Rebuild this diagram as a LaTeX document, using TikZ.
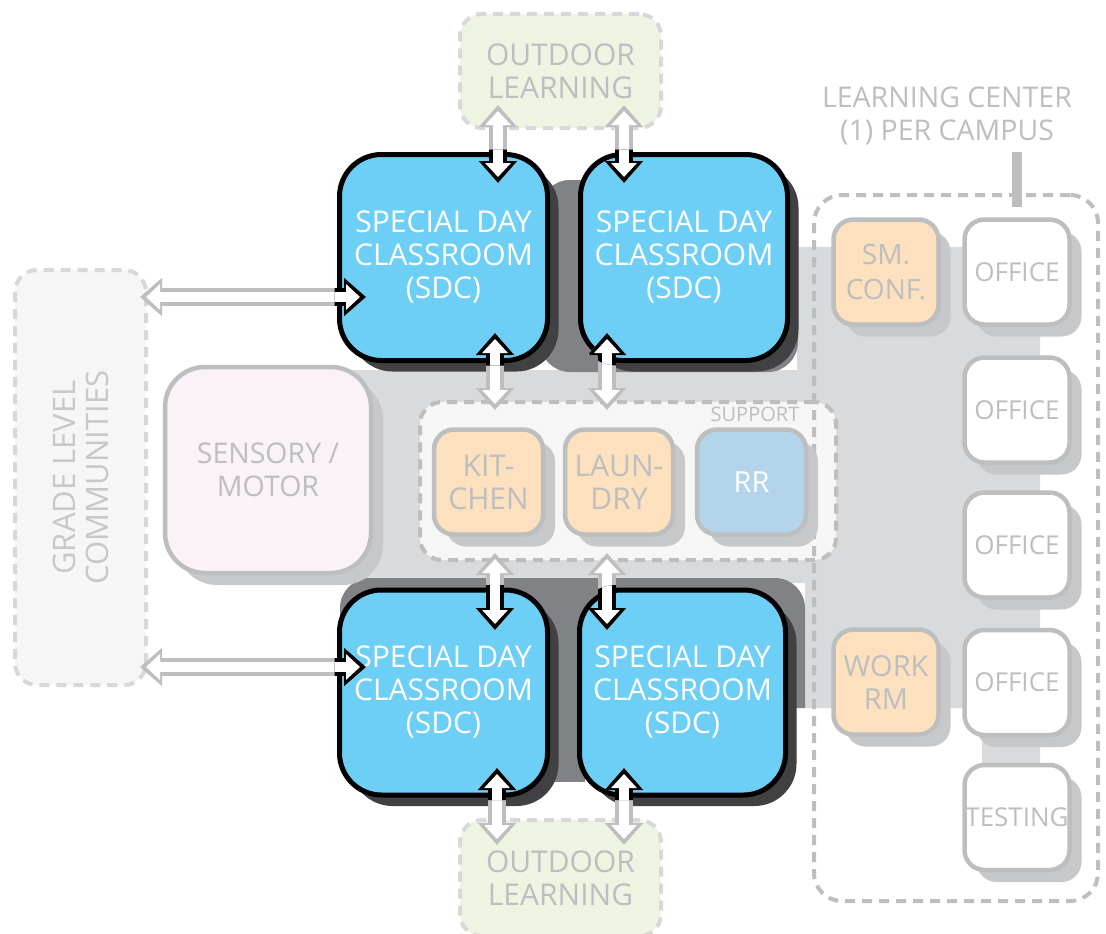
\documentclass[tikz,border=0pt]{standalone}
\usepackage{fontspec}
\setmainfont{Open Sans}
\usetikzlibrary{positioning,calc,shadows,arrows.meta}

\definecolor{sdcblue}{HTML}{6DCFF6}
\definecolor{sdcshadow}{HTML}{414042}
\definecolor{corridor}{HTML}{D9DADB}
\definecolor{darkband}{HTML}{808285}
\definecolor{softgray}{HTML}{BCBEC0}
\definecolor{shadowgray}{HTML}{C7C8CA}
\definecolor{zoneline}{HTML}{D7D8DA}
\definecolor{peach}{HTML}{FDE0BD}
\definecolor{rrblue}{HTML}{B4D4EC}
\definecolor{outdoorgreen}{HTML}{EEF4E1}
\definecolor{sensorypink}{HTML}{FBF2F7}
\definecolor{paleback}{HTML}{F6F6F6}

\tikzset{
  sdc/.style={rectangle, rounded corners=42pt, draw=black, line width=5pt, fill=sdcblue,
    text=white, align=center, minimum width=208pt, minimum height=206pt,
    font=\fontsize{30}{33}\selectfont,
    drop shadow={shadow xshift=11pt, shadow yshift=-11pt, fill=sdcshadow, opacity=1}},
  room/.style={rectangle, rounded corners=20pt, draw=softgray, line width=4.5pt, text=softgray,
    align=center, minimum width=105pt, minimum height=105pt, inner sep=0pt,
    font=\fontsize{29}{33}\selectfont,
    drop shadow={shadow xshift=12pt, shadow yshift=-12pt, fill=shadowgray, opacity=1}},
  zone/.style={rectangle, rounded corners=22pt, line width=4pt, dash pattern=on 10pt off 7pt,
    text=softgray, align=center, font=\fontsize{30}{33}\selectfont},
}

% two-way hollow arrow: outline colour, start, end
\newcommand{\twoway}[3]{%
  \draw[line width=18pt, #1, {Triangle[length=22pt,width=37pt]}-{Triangle[length=22pt,width=37pt]}] (#2) -- (#3);
  \draw[line width=10pt, white, {Triangle[length=14pt,width=25pt]}-{Triangle[length=14pt,width=25pt]},
    shorten <=6pt, shorten >=6pt] (#2) -- (#3);}

\begin{document}
\begin{tikzpicture}[x=1pt,y=-1pt]
    \useasboundingbox (0,0) rectangle (1106,934);

    % Corridor
    \fill[corridor] (300,370) -- (797,370) -- (797,247) -- (1040,247) -- (1040,775) -- (982,775)
        -- (982,708) -- (805,708) -- (805,583) -- (300,583) -- cycle;
    \fill[darkband, rounded corners=30pt] (540,180) rectangle (798,372);
    \fill[darkband] (340,708) [rounded corners=30pt] -- (340,578) -- (805,578) [sharp corners] -- (805,708) -- cycle;
    \fill[darkband] (540,700) rectangle (585,782);

    % Zones
    \node[zone, draw=zoneline, fill=outdoorgreen, minimum width=201pt, minimum height=114pt] (outTop) at (560.5,71) {OUTDOOR\\LEARNING};
    \node[zone, draw=zoneline, fill=outdoorgreen, minimum width=201pt, minimum height=116pt] (outBot) at (560.5,878) {OUTDOOR\\LEARNING};
    \node[zone, draw=zoneline, fill=paleback, rotate=90, minimum width=415pt, minimum height=131pt,
        font=\fontsize{31}{33}\selectfont, text=softgray!85] (grade) at (80.5,477.5) {GRADE LEVEL\\COMMUNITIES};
    \node[zone, draw=softgray, fill=paleback, minimum width=416pt, minimum height=158pt] (support) at (628,481) {};
    \node[font=\fontsize{20}{23}\selectfont, text=softgray] (supLabel) at (755,414) {SUPPORT};
    \node[zone, draw=softgray, rounded corners=28pt, minimum width=284pt, minimum height=706pt] (center) at (956,548) {};
    \node[text=softgray, align=center, font=\fontsize{28.5}{33}\selectfont] (centerLabel) at (947,116) {LEARNING CENTER\\(1) PER CAMPUS};

    % Sensory
    \node[room, fill=sensorypink, rounded corners=40pt, minimum width=206pt, minimum height=206pt,
        font=\fontsize{28.5}{33}\selectfont] (sensory) at (268,470) {SENSORY /\\MOTOR};

    % Support rooms
    \node[room, fill=peach, minimum width=109pt, font=\fontsize{30}{33}\selectfont] (kitchen) at (488.5,482) {KIT-\\CHEN};
    \node[room, fill=peach, minimum width=108pt, font=\fontsize{30}{33}\selectfont] (laundry) at (619,482) {LAUN-\\DRY};
    \node[room, fill=rrblue, text=white, minimum width=109pt] (rr) at (751.5,482) {RR};

    % Learning center rooms
    \node[room, fill=peach, font=\fontsize{28}{35}\selectfont] (smconf) at (886,272) {SM.\\CONF.};
    \node[room, fill=peach] (workrm) at (886,682) {WORK\\RM};
    \node[room, fill=white, font=\fontsize{26}{30}\selectfont] (office1) at (1017,272) {OFFICE};
    \node[room, fill=white, font=\fontsize{26}{30}\selectfont] (office2) at (1017,410) {OFFICE};
    \node[room, fill=white, font=\fontsize{26}{30}\selectfont] (office3) at (1017,545) {OFFICE};
    \node[room, fill=white, font=\fontsize{26}{30}\selectfont] (office4) at (1017,682.5) {OFFICE};
    \node[room, fill=white, font=\fontsize{26}{30}\selectfont] (testing) at (1017,817.5) {TESTING};
    \coordinate (tickTop) at (1017,152);
    \coordinate (tickBot) at (1017,207);
    \draw[softgray, line width=10pt] (tickTop) -- (tickBot);

    % Classrooms
    \node[sdc] (sdcTL) at (443.5,257.5) {SPECIAL DAY\\CLASSROOM\\(SDC)};
    \node[sdc, minimum width=207pt] (sdcTR) at (684,257.5) {SPECIAL DAY\\CLASSROOM\\(SDC)};
    \node[sdc, minimum height=205pt] (sdcBL) at (443.5,692.5) {SPECIAL DAY\\CLASSROOM\\(SDC)};
    \node[sdc, minimum width=206pt, minimum height=205pt] (sdcBR) at (682.5,692.5) {SPECIAL DAY\\CLASSROOM\\(SDC)};

    % Arrow ends
    \coordinate (oTa) at (498,105);  \coordinate (cTa) at (498,183);
    \coordinate (oTb) at (624,105);  \coordinate (cTb) at (624,183);
    \coordinate (cMa) at (495,333);  \coordinate (sMa) at (495,410);
    \coordinate (cMb) at (607,333);  \coordinate (sMb) at (607,410);
    \coordinate (sNa) at (495,553);  \coordinate (cNa) at (495,630);
    \coordinate (sNb) at (607,553);  \coordinate (cNb) at (607,630);
    \coordinate (cBa) at (497,768);  \coordinate (oBa) at (497,845);
    \coordinate (cBb) at (624,768);  \coordinate (oBb) at (624,845);
    \coordinate (gA) at (140,297);   \coordinate (cGa) at (366,297);
    \coordinate (gB) at (140,667);   \coordinate (cGb) at (366,667);

    % Arrows
    \twoway{softgray}{oTa}{cTa}
    \twoway{softgray}{oTb}{cTb}
    \twoway{softgray}{cMa}{sMa}
    \twoway{softgray}{cMb}{sMb}
    \twoway{softgray}{sNa}{cNa}
    \twoway{softgray}{sNb}{cNb}
    \twoway{softgray}{cBa}{oBa}
    \twoway{softgray}{cBb}{oBb}
    \twoway{softgray}{gA}{cGa}
    \twoway{softgray}{gB}{cGb}

    % Arrow outlines inside the classrooms
    \begin{scope}
        \clip[rounded corners=42pt] ([shift={(-2.5pt,-2.5pt)}]sdcTL.south west) rectangle ([shift={(2.5pt,2.5pt)}]sdcTL.north east);
        \twoway{black}{oTa}{cTa}
        \twoway{black}{cMa}{sMa}
        \twoway{black}{gA}{cGa}
    \end{scope}
    \begin{scope}
        \clip[rounded corners=42pt] ([shift={(-2.5pt,-2.5pt)}]sdcTR.south west) rectangle ([shift={(2.5pt,2.5pt)}]sdcTR.north east);
        \twoway{black}{oTb}{cTb}
        \twoway{black}{cMb}{sMb}
    \end{scope}
    \begin{scope}
        \clip[rounded corners=42pt] ([shift={(-2.5pt,-2.5pt)}]sdcBL.south west) rectangle ([shift={(2.5pt,2.5pt)}]sdcBL.north east);
        \twoway{black}{sNa}{cNa}
        \twoway{black}{cBa}{oBa}
        \twoway{black}{gB}{cGb}
    \end{scope}
    \begin{scope}
        \clip[rounded corners=42pt] ([shift={(-2.5pt,-2.5pt)}]sdcBR.south west) rectangle ([shift={(2.5pt,2.5pt)}]sdcBR.north east);
        \twoway{black}{sNb}{cNb}
        \twoway{black}{cBb}{oBb}
    \end{scope}
\end{tikzpicture}
\end{document}
